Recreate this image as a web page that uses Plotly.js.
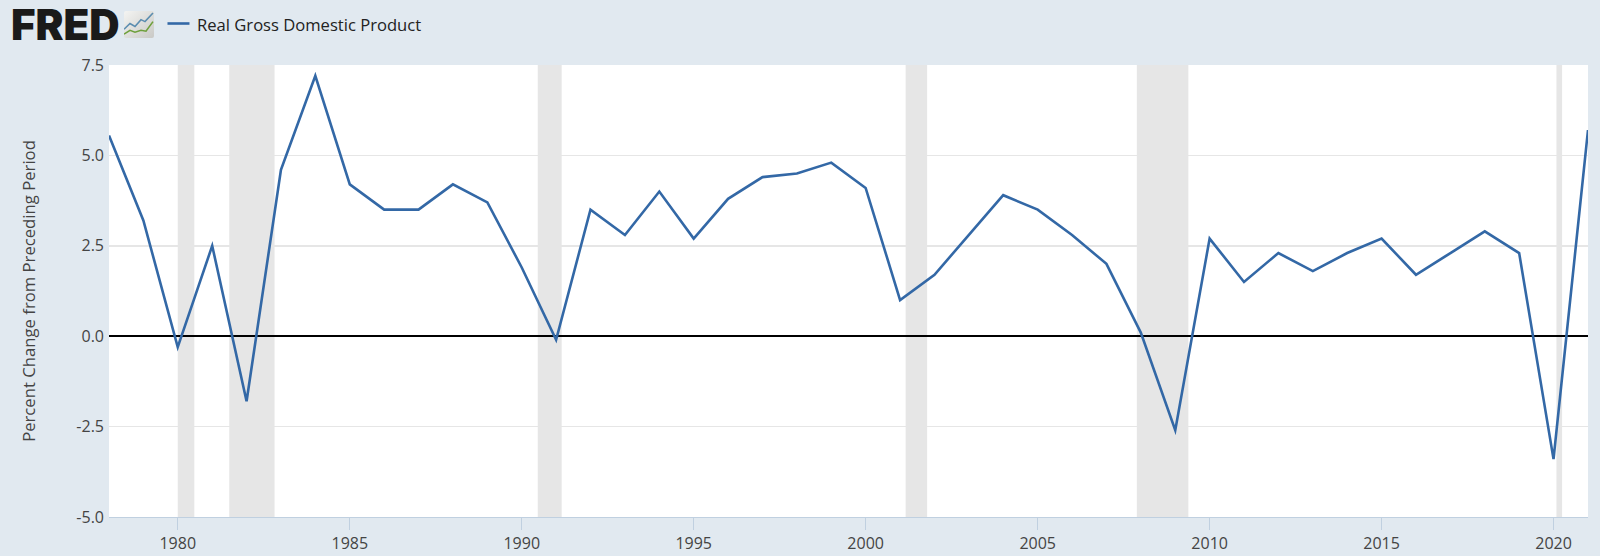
<!DOCTYPE html>
<html>
<head>
<meta charset="utf-8">
<script src="https://cdn.plot.ly/plotly-3.0.1.min.js"></script>
<style>html,body{margin:0;padding:0;background:#e1e9f0;overflow:hidden}#chart{width:1600px;height:556px}
.js-line{stroke-linejoin:miter!important;stroke-miterlimit:5!important}</style>
</head>
<body>
<div id="chart"></div>
<script>
const years = [1978,1979,1980,1981,1982,1983,1984,1985,1986,1987,1988,1989,1990,1991,1992,1993,1994,1995,1996,1997,1998,1999,2000,2001,2002,2003,2004,2005,2006,2007,2008,2009,2010,2011,2012,2013,2014,2015,2016,2017,2018,2019,2020,2021];
const gdpChange = [5.55,3.2,-0.3,2.5,-1.8,4.6,7.2,4.2,3.5,3.5,4.2,3.7,1.9,-0.1,3.5,2.8,4.0,2.7,3.8,4.4,4.5,4.8,4.1,1.0,1.7,2.8,3.9,3.5,2.8,2.0,0.1,-2.6,2.7,1.5,2.3,1.8,2.3,2.7,1.7,2.3,2.9,2.3,-3.4,5.7];
const recessionStarts = ['1980-01-01','1981-07-01','1990-06-20','2001-03-01','2007-11-20','2020-02-01'];
const recessionEnds = ['1980-06-25','1982-10-25','1991-03-01','2001-10-15','2009-05-20','2020-04-01'];
const seriesName = 'Real Gross Domestic Product';
const yTitle = 'Percent Change from Preceding Period';
const yTicks = [-5,-2.5,0,2.5,5,7.5];
const yTickLabels = ['-5.0','-2.5','0.0','2.5','5.0','7.5'];

const W = 1600, H = 556;
const PW = W - 120.5, PH = H - 104;
const px = v => (v - 108.5) / PW;
const py = v => 1 + (65 - v) / PH;
const logoSvg = `<svg xmlns="http://www.w3.org/2000/svg" width="30" height="28" viewBox="0 0 30 28">
<defs><linearGradient id="g" x1="0" y1="0" x2="1" y2="1"><stop offset="0" stop-color="#f4f4f2"/><stop offset="1" stop-color="#c9c9c6"/></linearGradient></defs>
<rect width="30" height="28" rx="2" fill="url(#g)"/>
<polyline points="0,19 6,13 11,16 17,9 21,11 29,2" fill="none" stroke="#5b8db0" stroke-width="1.6"/>
<polyline points="0,24 6,20 11,22 17,20 22,21 29,11" fill="none" stroke="#6ea03c" stroke-width="1.6"/>
</svg>`;

const trace = {
  x: years.map(y => y + '-01-01'),
  y: gdpChange,
  type: 'scatter',
  mode: 'lines',
  name: seriesName,
  line: {color: '#3368a6', width: 2.6},
  hoverinfo: 'x+y',
  showlegend: false
};

const recessionShapes = recessionStarts.map((s, i) => ({
  type: 'rect', xref: 'x', yref: 'paper',
  x0: s, x1: recessionEnds[i], y0: 0, y1: 1,
  fillcolor: '#e6e6e6', line: {width: 0}, layer: 'below'
}));

const layout = {
  width: W, height: H,
  paper_bgcolor: '#e1e9f0',
  plot_bgcolor: '#ffffff',
  font: {family: '"Open Sans", sans-serif', size: 16, color: '#444444'},
  margin: {l: 108.5, r: 12, t: 65, b: 39, pad: 0},
  showlegend: false,
  xaxis: {
    type: 'date',
    range: ['1978-01-01', '2021-01-01'],
    tick0: '1980-01-01', dtick: 'M60', tickformat: '%Y',
    showgrid: false, zeroline: false,
    showline: true, linecolor: '#c0d0e0', linewidth: 1,
    ticks: 'outside', ticklen: 12, tickcolor: '#c0d0e0', tickwidth: 1,
    tickfont: {size: 16, color: '#444444'}
  },
  yaxis: {
    range: [-5, 7.5],
    tickmode: 'array', tickvals: yTicks, ticktext: yTickLabels,
    showgrid: true, gridcolor: '#e6e6e6', gridwidth: 1.5,
    zeroline: true, zerolinecolor: '#000000', zerolinewidth: 2.2,
    showline: false, ticks: '',
    ticklabelstandoff: 4,
    tickfont: {size: 16, color: '#444444'},
    title: {text: yTitle, font: {size: 16.7, color: '#444444'}, standoff: 36}
  },
  shapes: recessionShapes.concat([{
    type: 'line', xref: 'paper', yref: 'paper',
    x0: px(167), x1: px(189), y0: py(23.5), y1: py(23.5),
    line: {color: '#3368a6', width: 2.6}
  }]),
  annotations: [{
    text: 'FRED', xref: 'paper', yref: 'paper', showarrow: false,
    x: px(8), y: py(24.5), xanchor: 'left', yanchor: 'middle',
    font: {family: 'Inter, sans-serif', size: 42, weight: 900, color: '#1a1a1a'}
  }, {
    text: seriesName, xref: 'paper', yref: 'paper', showarrow: false,
    x: px(195), y: py(24.5), xanchor: 'left', yanchor: 'middle',
    font: {size: 16.6, color: '#222222'}
  }],
  images: [{
    source: 'data:image/svg+xml;base64,' + btoa(logoSvg),
    xref: 'paper', yref: 'paper',
    x: px(123.5), y: py(11),
    sizex: 30 / PW, sizey: 27 / PH,
    xanchor: 'left', yanchor: 'top', sizing: 'stretch', layer: 'above'
  }]
};

Plotly.newPlot('chart', [trace], layout, {displayModeBar: false, staticPlot: true});
</script>
</body>
</html>
